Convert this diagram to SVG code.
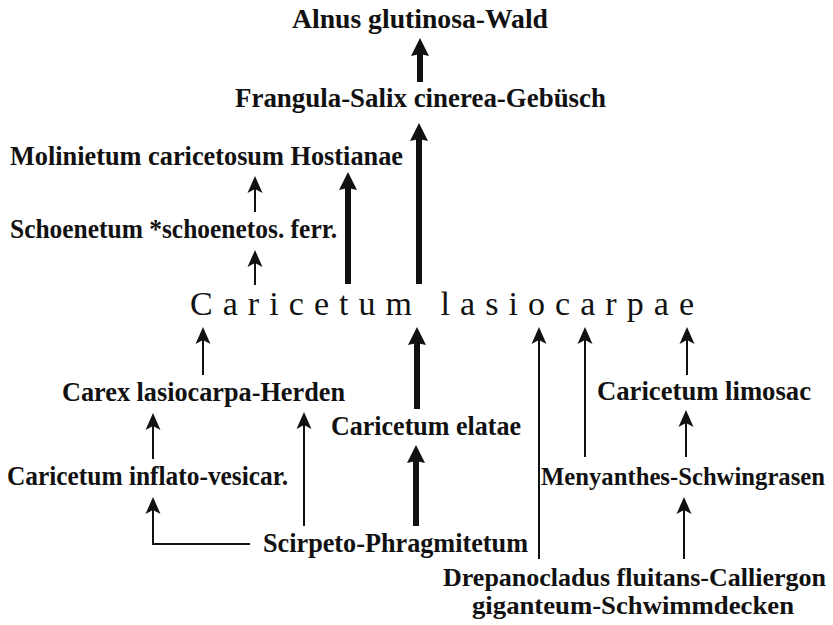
<svg xmlns="http://www.w3.org/2000/svg" width="833" height="625" viewBox="0 0 833 625">
<style>
text{font-family:"Liberation Serif","Times New Roman",serif;fill:#111;}
.lb{font-size:28px;font-weight:bold;}
.big{font-size:34px;font-weight:normal;}
.thin{stroke:#111;stroke-width:2;fill:none;marker-end:url(#hThin);}
.thick{stroke:#111;stroke-width:6;fill:none;marker-end:url(#hThick);}
</style>
<defs>
<marker id="hThin" markerUnits="userSpaceOnUse" orient="auto" refX="5" refY="0" markerWidth="20" markerHeight="20" overflow="visible">
<path d="M0,-7.5 L17,0 L0,7.5 L4,0 Z" fill="#111"/>
</marker>
<marker id="hThick" markerUnits="userSpaceOnUse" orient="auto" refX="3" refY="0" markerWidth="20" markerHeight="20" overflow="visible">
<path d="M0,-9 L18,0 L0,9 L2,0 Z" fill="#111"/>
</marker>
</defs>
<rect width="833" height="625" fill="#fff"/>
<g id="connectors">
<line class="thick" x1="420" y1="82" x2="420" y2="53"/>
<line class="thick" x1="419" y1="284" x2="419" y2="138"/>
<line class="thick" x1="348" y1="284" x2="348" y2="187"/>
<line class="thin" x1="255" y1="212" x2="255" y2="188"/>
<line class="thin" x1="255" y1="285" x2="255" y2="262"/>
<line class="thin" x1="203" y1="375" x2="203" y2="339"/>
<line class="thick" x1="417" y1="409" x2="417" y2="342"/>
<line class="thin" x1="539" y1="559" x2="539" y2="339"/>
<line class="thin" x1="585" y1="457" x2="585" y2="339"/>
<line class="thin" x1="687" y1="375" x2="687" y2="339"/>
<line class="thin" x1="153" y1="459" x2="153" y2="425"/>
<line class="thin" x1="304" y1="526" x2="304" y2="424"/>
<line class="thin" x1="686" y1="457" x2="686" y2="422"/>
<line class="thick" x1="416" y1="526" x2="416" y2="460"/>
<path class="thin" d="M250,544 H153 V509"/>
<line class="thin" x1="684" y1="559" x2="684" y2="509"/>
</g>
<g id="alnus"><text class="lb" x="292" y="28" textLength="256" lengthAdjust="spacingAndGlyphs">Alnus glutinosa-Wald</text></g>
<g id="frangula"><text class="lb" x="235" y="107" textLength="371" lengthAdjust="spacingAndGlyphs">Frangula-Salix cinerea-Gebüsch</text></g>
<g id="molinietum"><text class="lb" x="10" y="165" textLength="393" lengthAdjust="spacingAndGlyphs">Molinietum caricetosum Hostianae</text></g>
<g id="schoenetum"><text class="lb" x="10" y="238" textLength="327" lengthAdjust="spacingAndGlyphs">Schoenetum *schoenetos. ferr.</text></g>
<g id="lasiocarpae"><text class="big" x="190" y="315" textLength="504" lengthAdjust="spacing">Caricetum lasiocarpae</text></g>
<g id="carex"><text class="lb" x="62" y="401" textLength="283" lengthAdjust="spacingAndGlyphs">Carex lasiocarpa-Herden</text></g>
<g id="limosae"><text class="lb" x="597" y="400" textLength="214" lengthAdjust="spacingAndGlyphs">Caricetum limosac</text></g>
<g id="elatae"><text class="lb" x="331" y="435" textLength="190" lengthAdjust="spacingAndGlyphs">Caricetum elatae</text></g>
<g id="inflato"><text class="lb" x="7" y="485" textLength="281" lengthAdjust="spacingAndGlyphs">Caricetum inflato-vesicar.</text></g>
<g id="menyanthes"><text class="lb" x="541" y="485" style="font-size:25px" textLength="284" lengthAdjust="spacingAndGlyphs">Menyanthes-Schwingrasen</text></g>
<g id="scirpeto"><text class="lb" x="263" y="552" textLength="265" lengthAdjust="spacingAndGlyphs">Scirpeto-Phragmitetum</text></g>
<g id="drepanocladus"><text class="lb" x="443" y="586" style="font-size:26px" textLength="383" lengthAdjust="spacingAndGlyphs">Drepanocladus fluitans-Calliergon</text><text class="lb" x="472" y="614" style="font-size:26px" textLength="322" lengthAdjust="spacingAndGlyphs">giganteum-Schwimmdecken</text></g>
</svg>
